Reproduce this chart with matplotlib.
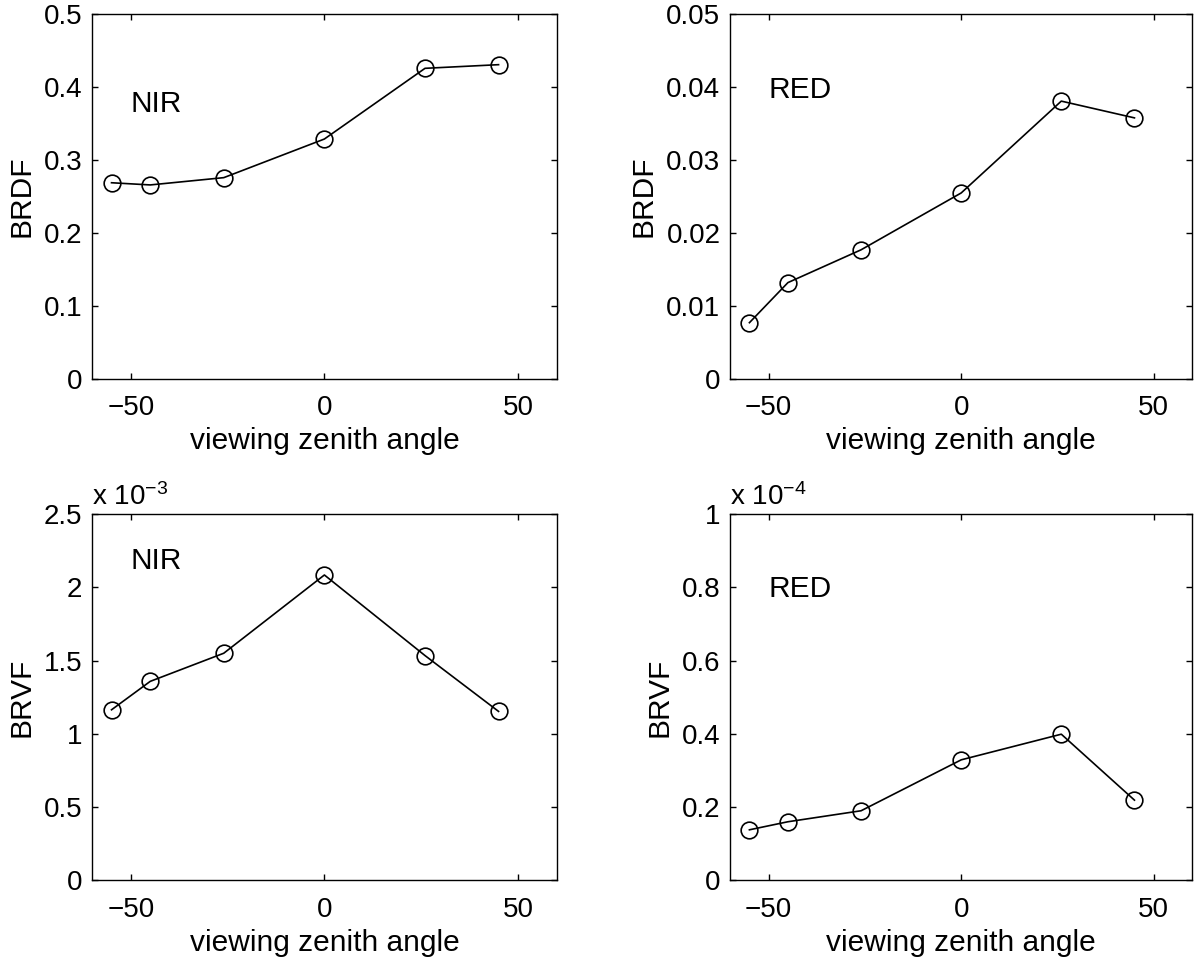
import numpy as np
import matplotlib.pyplot as plt
from matplotlib.ticker import FuncFormatter

plt.rcParams['font.family'] = ['Liberation Sans', 'DejaVu Sans']
plt.rcParams['mathtext.fontset'] = 'custom'
plt.rcParams['mathtext.rm'] = 'Liberation Sans'
plt.rcParams['mathtext.it'] = 'Liberation Sans'

# viewing zenith angles (deg)
vza = np.array([-55, -45, -26, 0, 26, 45])

brdf_nir = np.array([0.269, 0.266, 0.276, 0.329, 0.426, 0.431])
brdf_red = np.array([0.0077, 0.0132, 0.0177, 0.0255, 0.0381, 0.0358])
brvf_nir = np.array([1.164e-3, 1.358e-3, 1.550e-3, 2.084e-3, 1.534e-3, 1.153e-3])
brvf_red = np.array([0.138e-4, 0.160e-4, 0.190e-4, 0.329e-4, 0.399e-4, 0.219e-4])

panels = [
    # (values, ylabel, band, ymax, ystep, scale exponent, label y)
    (brdf_nir, 'BRDF', 'NIR', 0.5, 0.1, 0, 0.377),
    (brdf_red, 'BRDF', 'RED', 0.05, 0.01, 0, 0.0396),
    (brvf_nir, 'BRVF', 'NIR', 2.5e-3, 0.5e-3, -3, 2.18e-3),
    (brvf_red, 'BRVF', 'RED', 1e-4, 0.2e-4, -4, 0.795e-4),
]
rects = [
    [0.077, 0.605, 0.388, 0.380],
    [0.610, 0.605, 0.386, 0.380],
    [0.077, 0.082, 0.388, 0.382],
    [0.610, 0.082, 0.386, 0.382],
]

fs = 20
lfs = 21.5
fig = plt.figure(figsize=(11.97, 9.59), dpi=100)

for rect, (vals, ylab, band, ymax, ystep, ex, ty) in zip(rects, panels):
    ax = fig.add_axes(rect)
    ax.plot(vza, vals, 'k-', lw=1.2, marker='o', ms=12, mfc='none', mec='k', mew=1.2)
    ax.set_xlim(-60, 60)
    ax.set_ylim(0, ymax)
    ax.set_xticks([-50, 0, 50])
    ax.set_yticks(np.arange(0, ymax + ystep / 2, ystep))
    sc = 10.0 ** ex
    ax.yaxis.set_major_formatter(FuncFormatter(lambda v, p, sc=sc: '%g' % round(v / sc, 6)))
    ax.tick_params(direction='in', top=True, right=True, length=4, width=1, labelsize=fs)
    ax.tick_params(axis='x', pad=12)
    ax.tick_params(axis='y', pad=7)
    ax.set_xlabel('viewing zenith angle', fontsize=lfs, labelpad=4)
    ax.set_ylabel(ylab, fontsize=lfs, labelpad=6)
    ax.text(-50, ty, band, fontsize=lfs, ha='left', va='center')
    if ex != 0:
        ax.text(0.0, 1.008, r'x 10$^{\mathregular{%d}}$' % ex, transform=ax.transAxes,
                fontsize=20, ha='left', va='bottom')
    for s in ax.spines.values():
        s.set_linewidth(1)

fig.savefig('out.png', dpi=100)
